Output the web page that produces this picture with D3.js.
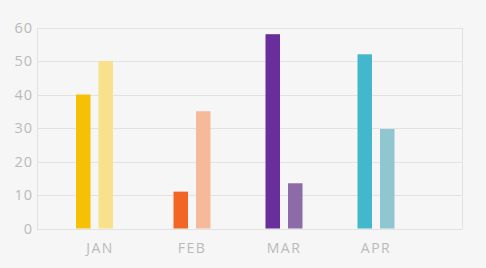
<!DOCTYPE html>
<html lang="en">
  <head>
    <meta charset="UTF-8" />
    <script src="https://d3js.org/d3.v7.min.js"></script>
    <title>Monthly bars</title>
    <style>
      body {
        margin: 0;
        background: #f6f6f6;
      }
      #chart text {
        font-family: "Open Sans", sans-serif;
        fill: #bababa;
      }
    </style>
  </head>
  <body>
    <svg id="chart" width="486" height="268"></svg>
    <script>
      const months = ["JAN", "FEB", "MAR", "APR"];
      const seriesA = [40, 11, 58, 52];
      const seriesB = [50, 35, 13.5, 29.7];
      const colorsA = ["#f6c104", "#f26524", "#6a2e9c", "#43b8cd"];
      const colorsB = ["#f9e18c", "#f6b999", "#8c6ba6", "#90c6d0"];
      const yTicks = [0, 10, 20, 30, 40, 50, 60];

      const plotLeft = 37, plotRight = 462, plotTop = 27.5, plotBottom = 228.5;

      const svg = d3.select("#chart");

      const y = d3.scaleLinear().domain([0, 60]).range([plotBottom, plotTop]);
      // category slots: label centres at about 100, 192, 284, 376
      const x = d3.scaleBand().domain(months).range([54, 422]);
      const inner = d3.scaleBand().domain(["a", "b"]).range([-18.5, 18.5]).paddingInner(0.356);

      // grid
      svg.append("g")
        .selectAll("line")
        .data(yTicks)
        .join("line")
        .attr("x1", plotLeft)
        .attr("x2", plotRight)
        .attr("y1", d => Math.round(y(d)) + 0.5)
        .attr("y2", d => Math.round(y(d)) + 0.5)
        .attr("stroke", "#e2e2e2");

      svg.append("line")
        .attr("x1", plotLeft + 0.5).attr("x2", plotLeft + 0.5)
        .attr("y1", y(60)).attr("y2", y(0) + 1)
        .attr("stroke", "#e2e2e2");
      svg.append("line")
        .attr("x1", plotRight + 0.5).attr("x2", plotRight + 0.5)
        .attr("y1", y(60)).attr("y2", y(0) + 1)
        .attr("stroke", "#e2e2e2");

      // y labels
      svg.append("g")
        .selectAll("text")
        .data(yTicks)
        .join("text")
        .attr("x", 33)
        .attr("y", d => y(d))
        .attr("dy", "0.36em")
        .attr("text-anchor", "end")
        .attr("font-size", 14.5)
        .attr("letter-spacing", 1)
        .text(d => d);

      // bars
      const groups = svg.append("g")
        .selectAll("g")
        .data(months)
        .join("g")
        .attr("transform", d => `translate(${x(d) + x.bandwidth() / 2},0)`);

      // JAN bars sit a little left of their label in the original
      const shift = d => (d === "JAN" ? -5.5 : 0);

      groups.append("rect")
        .attr("x", d => shift(d) + inner("a"))
        .attr("width", inner.bandwidth())
        .attr("y", (d, i) => y(seriesA[i]))
        .attr("height", (d, i) => y(0) - y(seriesA[i]))
        .attr("fill", (d, i) => colorsA[i]);

      groups.append("rect")
        .attr("x", d => shift(d) + inner("b"))
        .attr("width", inner.bandwidth())
        .attr("y", (d, i) => y(seriesB[i]))
        .attr("height", (d, i) => y(0) - y(seriesB[i]))
        .attr("fill", (d, i) => colorsB[i]);

      // x labels
      groups.append("text")
        .attr("y", 253)
        .attr("text-anchor", "middle")
        .attr("font-size", 14)
        .attr("letter-spacing", 1.5)
        .text(d => d);
    </script>
  </body>
</html>
